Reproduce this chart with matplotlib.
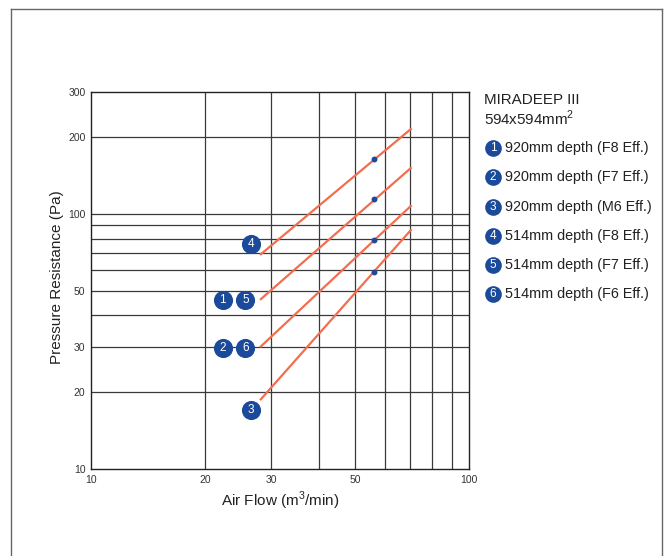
import matplotlib.pyplot as plt
from matplotlib.lines import Line2D

plt.rcParams['font.family'] = ['Liberation Sans', 'DejaVu Sans']
plt.rcParams['mathtext.fontset'] = 'custom'
plt.rcParams['mathtext.rm'] = 'Liberation Sans'

# curve endpoints (air flow m3/min, pressure Pa) and rated points
line_start_x = [28, 28, 28, 28]
line_start_y = [69, 46, 30, 18.6]
line_end_x = [70.5, 70.5, 70.5, 70.5]
line_end_y = [216, 152, 108, 87]
rated_x = [56, 56, 56, 56]
rated_y = [164, 114, 79, 59]

# numbered badges next to the curves
badge_labels = ['4', '1', '5', '2', '6', '3']
badge_x = [26.5, 22.3, 25.6, 22.3, 25.6, 26.5]
badge_y = [76, 46, 46, 29.8, 29.8, 17.1]

legend_title = 'MIRADEEP III'
legend_sub = '594x594mm$^\\mathrm{2}$'
legend_items = ['920mm depth (F8 Eff.)', '920mm depth (F7 Eff.)', '920mm depth (M6 Eff.)',
                '514mm depth (F8 Eff.)', '514mm depth (F7 Eff.)', '514mm depth (F6 Eff.)']

x_ticks = [10, 20, 30, 50, 100]
y_ticks = [10, 20, 30, 50, 100, 200, 300]
x_grid = [20, 30, 40, 50, 60, 70, 80, 90]
y_grid = [20, 30, 40, 50, 60, 70, 80, 90, 100, 200]

line_color = '#F26E4F'
badge_color = '#1C4A9A'
grid_color = '#3a3a3a'

fig = plt.figure(figsize=(6.67, 5.56), dpi=100)
fig.patch.set_facecolor('white')

# outer frame (left, top, right edges)
W, H = 667, 556
fx = lambda px: px / W
fy = lambda py: 1 - py / H
for xs, ys in [([11, 11], [9, 560]), ([11, 662], [9, 9]), ([662, 662], [9, 560])]:
    fig.add_artist(Line2D([fx(v) for v in xs], [fy(v) for v in ys],
                          color='#666666', lw=1.0))

ax = fig.add_axes([91 / W, 1 - 469 / H, (469 - 91) / W, (469 - 92) / H])
ax.set_xscale('log')
ax.set_yscale('log')
ax.set_xlim(10, 100)
ax.set_ylim(10, 300)

for v in x_grid:
    ax.axvline(v, color=grid_color, lw=0.9, zorder=1)
for v in y_grid:
    ax.axhline(v, color=grid_color, lw=0.9, zorder=1)

ax.set_xticks(x_ticks)
ax.set_xticklabels([str(t) for t in x_ticks])
ax.set_yticks(y_ticks)
ax.set_yticklabels([str(t) for t in y_ticks])
ax.minorticks_off()
ax.tick_params(length=0, labelsize=7.5, colors='#333333', pad=4)
for s in ax.spines.values():
    s.set_color('#222222')
    s.set_linewidth(1.0)

for i in range(len(line_start_x)):
    ax.plot([line_start_x[i], line_end_x[i]], [line_start_y[i], line_end_y[i]],
            color=line_color, lw=1.6, zorder=3, solid_capstyle='butt')
ax.scatter(rated_x, rated_y, s=18, color=badge_color, zorder=4, linewidths=0)

for lab, bx, by in zip(badge_labels, badge_x, badge_y):
    ax.scatter([bx], [by], s=190, color=badge_color, zorder=5, linewidths=0)
    ax.text(bx, by, lab, color='white', fontsize=8.5, ha='center', va='center', zorder=6)

ax.set_xlabel('Air Flow (m$^\\mathrm{3}$/min)', fontsize=11, color='#222222', labelpad=4)
ax.set_ylabel('Pressure Resistance (Pa)', fontsize=11, color='#222222')
ax.yaxis.set_label_coords((64 - 91) / 378, 0.51)

# legend panel on the right
fig.text(fx(484), fy(100), legend_title, fontsize=10.9, color='#222222', va='center')
fig.text(fx(484), fy(118), legend_sub, fontsize=10.9, color='#222222', va='center')
item_y = [148, 177, 207, 236, 265, 294]
for k, (txt, py) in enumerate(zip(legend_items, item_y)):
    fig.add_artist(Line2D([fx(493)], [fy(py)], marker='o', markersize=12,
                          color=badge_color, markeredgewidth=0, linestyle='none'))
    fig.text(fx(493), fy(py), str(k + 1), color='white', fontsize=8.5,
             ha='center', va='center')
    fig.text(fx(505), fy(py), txt, fontsize=10.4, color='#222222', va='center')

fig.savefig('out.png', dpi=100, facecolor='white')
